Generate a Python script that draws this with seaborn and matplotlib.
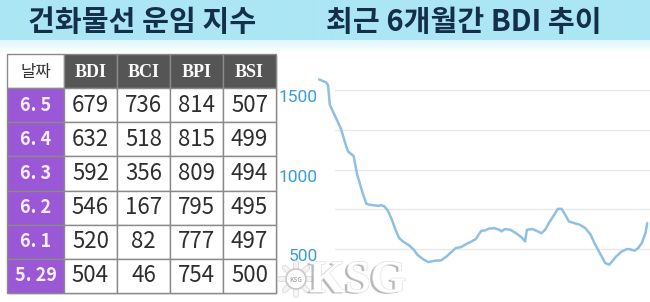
import numpy as np
import matplotlib
matplotlib.use("Agg")
import matplotlib.pyplot as plt
import seaborn as sns
from matplotlib.patches import Rectangle, Circle
import matplotlib.transforms as mtransforms
import matplotlib.patheffects as pe

# ---------------- data ----------------
title_left = "건화물선 운임 지수"
title_right = "최근 6개월간 BDI 추이"
header_date = "날짜"
table_cols = ["BDI", "BCI", "BPI", "BSI"]
dates = ["6.5", "6.4", "6.3", "6.2", "6.1", "5.29"]
bdi = [679, 632, 592, 546, 520, 504]
bci = [736, 518, 356, 167, 82, 46]
bpi = [814, 815, 809, 795, 777, 754]
bsi = [507, 499, 494, 495, 497, 500]

trend_day = [0, 4, 5, 6, 9, 12, 15, 16, 19, 21, 24, 26, 28, 31, 33, 34, 36, 38,
             40, 42, 44, 46, 49, 52, 54, 57, 60, 62, 64, 67, 70, 73, 75, 78, 81,
             83, 86, 89, 91, 93, 96, 99, 100, 102, 105, 108, 111, 113, 114, 117,
             120, 122, 124, 126, 129, 131, 133, 135, 137, 140, 143, 146, 149, 151,
             154, 157, 159, 160, 163, 166, 169, 170, 173, 175, 177, 179, 180]
trend_bdi = [1567, 1548, 1531, 1406, 1333, 1259, 1144, 1113, 1086, 967, 851, 785,
             778, 774, 772, 776, 768, 736, 684, 621, 569, 548, 527, 496, 464, 437,
             418, 423, 427, 429, 454, 485, 506, 513, 533, 544, 563, 615, 617, 628,
             632, 621, 611, 626, 621, 600, 575, 548, 621, 626, 611, 600, 621, 663,
             716, 753, 753, 716, 674, 663, 653, 632, 590, 538, 475, 412, 402, 412,
             454, 485, 500, 500, 490, 506, 538, 600, 663]
ytick_vals = [500, 1000, 1500]
grid_vals = [500, 750, 1000, 1250, 1500]

# ---------------- style ----------------
sns.set_theme(style="white")
plt.rcParams["font.family"] = ["Noto Sans CJK KR", "DejaVu Sans"]

W, H = 650, 302
fig = plt.figure(figsize=(W / 100, H / 100), dpi=100)
fig.patch.set_facecolor("white")

# background / title band
bg = fig.add_axes([0, 0, 1, 1], zorder=0)
bg.set_xlim(0, W)
bg.set_ylim(H, 0)
bg.axis("off")
grad = np.ones((H, 1, 3))
band = np.array([172, 230, 244]) / 255.0
fade_top = np.array([222, 246, 252]) / 255.0
for r in range(H):
    if r < 40:
        grad[r, 0] = band
    elif r < 52:
        t = (r - 40) / 12.0
        grad[r, 0] = fade_top * (1 - t) + np.ones(3) * t
bg.imshow(grad, extent=[0, W, H, 0], aspect="auto", interpolation="bilinear", zorder=0)

bg.text(142, 22, title_left, ha="center", va="center", fontsize=21,
        fontweight="bold", color="#142f4a", zorder=2)
bg.text(464, 22, title_right, ha="center", va="center", fontsize=21,
        fontweight="bold", color="#142f4a", zorder=2)

# ---------------- table ----------------
col_edges = [7, 64, 117, 170, 223, 276]
top, row_h = 54, 34.15
purple = "#9a57d6"
header_gray = "#555555"
border = "#8a8a8a"
values = [bdi, bci, bpi, bsi]

# faint shadow
bg.add_patch(Rectangle((col_edges[0] + 2, top + 2), col_edges[-1] - col_edges[0],
                       row_h * 7, facecolor="#e6e6e6", edgecolor="none", zorder=1))

for ci in range(5):
    x0, x1 = col_edges[ci], col_edges[ci + 1]
    xc = (x0 + x1) / 2
    y0 = top
    if ci == 0:
        bg.add_patch(Rectangle((x0, y0), x1 - x0, row_h, facecolor="white",
                               edgecolor=border, lw=1, zorder=3))
        bg.text(xc, y0 + row_h / 2 + 1, header_date, ha="center", va="center",
                fontsize=12, color="#333333", fontweight="medium", zorder=4)
    else:
        bg.add_patch(Rectangle((x0, y0), x1 - x0, row_h, facecolor=header_gray,
                               edgecolor=border, lw=1, zorder=3))
        bg.text(xc, y0 + row_h / 2 + 1, table_cols[ci - 1], ha="center", va="center",
                fontsize=13, color="white", fontweight="bold",
                family="Liberation Serif", zorder=4)
    for ri in range(len(dates)):
        y0 = top + row_h * (ri + 1)
        if ci == 0:
            bg.add_patch(Rectangle((x0, y0), x1 - x0, row_h, facecolor=purple,
                                   edgecolor=border, lw=1, zorder=3))
            bg.text(xc, y0 + row_h / 2, dates[ri].replace(".", ". "), ha="center",
                    va="center", fontsize=13, color="#f8eeff", fontweight="bold",
                    zorder=4)
        else:
            bg.add_patch(Rectangle((x0, y0), x1 - x0, row_h, facecolor="white",
                                   edgecolor=border, lw=1, zorder=3))
            bg.text(xc, y0 + row_h / 2, str(values[ci - 1][ri]), ha="center",
                    va="center", fontsize=16, color="#2e2e2e", zorder=4)

# ---------------- line chart ----------------
ax_left = 318
ax = fig.add_axes([ax_left / W, 0, (W - ax_left) / W, (H - 50) / H], zorder=2)
ax.set_facecolor("none")
for g in grid_vals:
    ax.axhline(g, xmin=0.05, xmax=1, color="#e9e9e9", lw=1, zorder=0)
sns.lineplot(x=trend_day, y=trend_bdi, ax=ax, color="#8fc0e3", lw=1.8, zorder=3)
ax.set_xlim(-0.5, 181.5)
ax.set_ylim(167, 1752)
ax.set_xticks([])
ax.set_yticks(ytick_vals)
ax.set_yticklabels([str(v) for v in ytick_vals])
ax.tick_params(axis="y", length=0, pad=0, labelsize=12.5, labelcolor="#3a9bd8")
offset = mtransforms.ScaledTranslation(0, -0.06, fig.dpi_scale_trans)
for lbl in ax.get_yticklabels():
    lbl.set_family(["Roboto", "DejaVu Sans"])
    lbl.set_fontweight("normal")
    lbl.set_transform(lbl.get_transform() + offset)
ax.set_xlabel("")
ax.set_ylabel("")
for s in ax.spines.values():
    s.set_visible(False)

# ---------------- watermark ----------------
ov = fig.add_axes([0, 0, 1, 1], zorder=10)
ov.set_xlim(0, W)
ov.set_ylim(H, 0)
ov.axis("off")
ov.set_facecolor("none")
cx, cy, r = 296, 279, 10
for k in range(8):
    a = k * np.pi / 4
    ov.plot([cx + r * np.cos(a), cx + (r + 6) * np.cos(a)],
            [cy + r * np.sin(a), cy + (r + 6) * np.sin(a)],
            color="#f4f4f4", lw=3, solid_capstyle="round", zorder=11,
            path_effects=[pe.withStroke(linewidth=4, foreground="#d6d6d6")])
ov.add_patch(Circle((cx, cy), r, facecolor="white", edgecolor="#c8c8c8", lw=1.2,
                    zorder=12))
ov.text(cx, cy, "KSG", ha="center", va="center", fontsize=4.5, color="#b0b0b0",
        fontweight="bold", zorder=13)
ov.text(358, 292, "KSG", ha="center", va="baseline", fontsize=33, color="white",
        fontweight="bold", family="Liberation Serif", zorder=12,
        path_effects=[pe.SimplePatchShadow(offset=(-2, -1), shadow_rgbFace="#9a9a9a",
                                           alpha=0.7),
                      pe.withStroke(linewidth=1, foreground="#e2e2e2")])

fig.savefig("out.png", dpi=100, facecolor="white")
